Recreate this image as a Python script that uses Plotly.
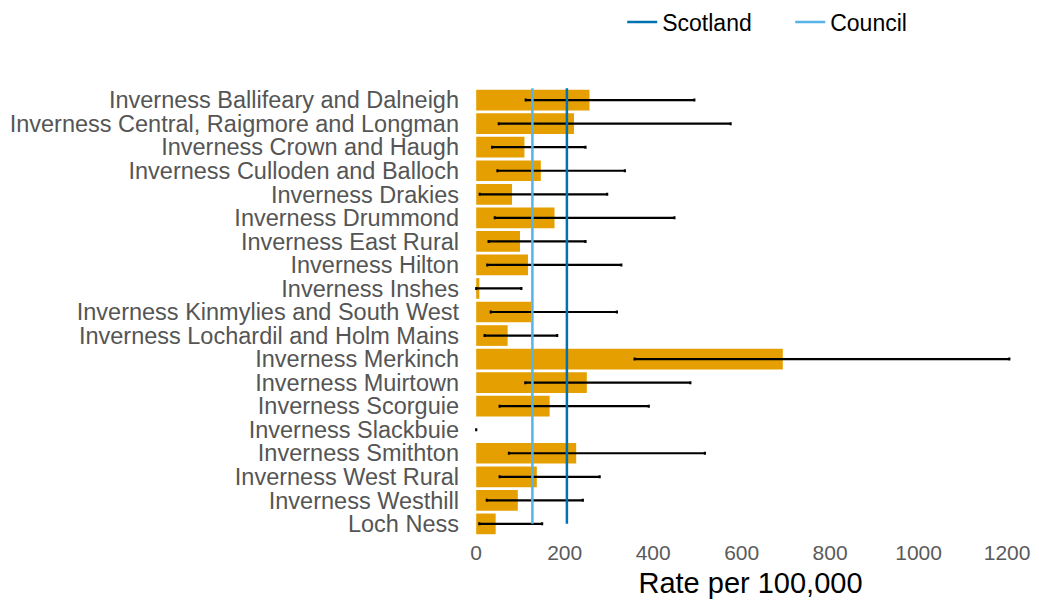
import plotly.graph_objects as go

areas = [
    "Inverness Ballifeary and Dalneigh",
    "Inverness Central, Raigmore and Longman",
    "Inverness Crown and Haugh",
    "Inverness Culloden and Balloch",
    "Inverness Drakies",
    "Inverness Drummond",
    "Inverness East Rural",
    "Inverness Hilton",
    "Inverness Inshes",
    "Inverness Kinmylies and South West",
    "Inverness Lochardil and Holm Mains",
    "Inverness Merkinch",
    "Inverness Muirtown",
    "Inverness Scorguie",
    "Inverness Slackbuie",
    "Inverness Smithton",
    "Inverness West Rural",
    "Inverness Westhill",
    "Loch Ness",
]
rate = [256, 221, 109, 146, 81, 177, 99, 117, 7, 124, 71, 693, 250, 166, 0, 226, 137, 94, 44]
lower = [112, 51, 36, 48, 8, 42, 28, 25, 0, 33, 19, 358, 111, 53, 0, 74, 53, 24, 7]
upper = [493, 575, 247, 336, 296, 448, 247, 328, 102, 318, 183, 1205, 484, 390, 0, 517, 279, 241, 149]
scotland_rate = 205
council_rate = 127
x_ticks = [0, 200, 400, 600, 800, 1000, 1200]

idx = list(range(len(areas)))
err_plus = [u - r for u, r in zip(upper, rate)]
err_minus = [r - l for r, l in zip(rate, lower)]

fig = go.Figure()
fig.add_trace(go.Bar(
    y=idx, x=rate, orientation="h",
    marker=dict(color="#E69F00", line=dict(width=0)),
    width=0.88,
    error_x=dict(type="data", array=err_plus, arrayminus=err_minus,
                 symmetric=False, color="black", thickness=2.2, width=1.5),
    showlegend=False, hoverinfo="x+y",
))
top = idx[0] - 0.5
bottom = idx[-1]
fig.add_trace(go.Scatter(
    x=[scotland_rate, scotland_rate], y=[top, bottom], mode="lines",
    line=dict(color="#0072B2", width=2.5), name="Scotland",
))
fig.add_trace(go.Scatter(
    x=[council_rate, council_rate], y=[top, bottom], mode="lines",
    line=dict(color="#56B4E9", width=2.5), name="Council",
))

fig.update_layout(
    width=1031, height=592,
    margin=dict(l=466, r=12, t=78, b=62, autoexpand=False),
    plot_bgcolor="white", paper_bgcolor="white",
    font=dict(family="Liberation Sans, Arial, sans-serif"),
    legend=dict(orientation="h", x=0.268, y=1.1416, xanchor="left", yanchor="middle",
                xref="paper", font=dict(size=23, color="black"),
                itemwidth=30, entrywidth=123, entrywidthmode="pixels",
                bgcolor="rgba(0,0,0,0)"),
    xaxis=dict(range=[-5, 1245], tickvals=x_ticks,
               showgrid=False, zeroline=False, showline=False,
               tickfont=dict(size=21, color="#5a5a5a"),
               title=dict(text="Rate per 100,000", font=dict(size=29, color="black"), standoff=9)),
    yaxis=dict(range=[18.6, -0.6], tickvals=idx, ticktext=areas,
               showgrid=False, zeroline=False, showline=False,
               tickfont=dict(size=23.5, color="#555555"), ticks="", ticklen=0,
               ticklabelstandoff=14),
)
fig.update_yaxes(automargin=False)
fig.update_xaxes(automargin=False)

fig.write_html("out.html")
